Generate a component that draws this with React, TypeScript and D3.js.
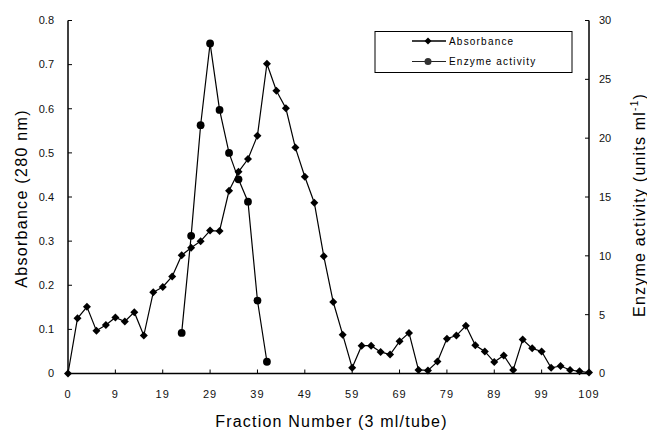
import React from "react";
import * as d3 from "d3";

// Category labels (fraction numbers) of the x axis
const fractions = [
  0, 1, 3, 5, 7, 9, 11, 13, 15, 17, 19, 21, 23, 25, 27, 29, 31, 33, 35, 37,
  39, 41, 43, 45, 47, 49, 51, 53, 55, 57, 59, 61, 63, 65, 67, 69, 71, 73, 75,
  77, 79, 81, 83, 85, 87, 89, 91, 93, 95, 97, 99, 101, 103, 105, 107, 109,
];

// Absorbance (280 nm), one value per fraction
const absorbance = [
  0, 0.125, 0.151, 0.097, 0.11, 0.127, 0.118, 0.139, 0.086, 0.184, 0.196, 0.22,
  0.268, 0.285, 0.3, 0.324, 0.323, 0.414, 0.457, 0.486, 0.539, 0.702, 0.641,
  0.601, 0.512, 0.446, 0.387, 0.266, 0.162, 0.088, 0.013, 0.063, 0.063, 0.049,
  0.043, 0.073, 0.092, 0.008, 0.007, 0.027, 0.079, 0.086, 0.108, 0.064, 0.05,
  0.026, 0.041, 0.008, 0.077, 0.057, 0.05, 0.013, 0.017, 0.008, 0.005, 0.002,
];

// Enzyme activity (units ml-1)
const enzymeFractions = [23, 25, 27, 29, 31, 33, 35, 37, 39, 41];
const enzymeActivity = [3.45, 11.7, 21.1, 28.05, 22.4, 18.75, 16.5, 14.6, 6.2, 1.0];

// Tick labels
const xTickLabels = [0, 9, 19, 29, 39, 49, 59, 69, 79, 89, 99, 109];
const leftTicks = [0, 0.1, 0.2, 0.3, 0.4, 0.5, 0.6, 0.7, 0.8];
const rightTicks = [0, 5, 10, 15, 20, 25, 30];

const W = 647;
const H = 432;
const FONT = "'Liberation Sans', Arial, Helvetica, sans-serif";

export default function App() {
  const x = d3.scaleLinear().domain([0, fractions.length - 1]).range([68, 589]);
  const yL = d3.scaleLinear().domain([0, 0.8]).range([373.5, 20.5]);
  const yR = d3.scaleLinear().domain([0, 30]).range([373.5, 20.5]);
  const idx = (f: number) => fractions.indexOf(f);

  const absPts: [number, number][] = absorbance.map((v, i) => [x(i), yL(v)]);
  const enzPts: [number, number][] = enzymeActivity.map((v, i) => [
    x(idx(enzymeFractions[i])),
    yR(v),
  ]);
  const line = d3.line();
  const diamond = (cx: number, cy: number, s = 4) =>
    `M${cx},${cy - s}L${cx + s},${cy}L${cx},${cy + s}L${cx - s},${cy}Z`;

  const x0 = x.range()[0];
  const x1 = x.range()[1];
  const yb = yL(0);

  return (
    <svg
      width={W}
      height={H}
      style={{ position: "absolute", left: 0, top: 0, background: "#fff" }}
      fontFamily={FONT}
    >
      <rect x={0} y={0} width={W} height={H} fill="#fff" />
      {/* axes */}
      <g stroke="#000" strokeWidth={1.5} fill="none">
        <line x1={x0} y1={yL(0.8)} x2={x0} y2={yb} />
        <line x1={x1} y1={yR(30)} x2={x1} y2={yb} />
        <line x1={x0} y1={yb} x2={x1} y2={yb} />
      </g>
      <g stroke="#000" strokeWidth={1}>
        {leftTicks.map((t) => (
          <line key={"lt" + t} x1={x0} x2={x0 + 4} y1={yL(t)} y2={yL(t)} />
        ))}
        {rightTicks.map((t) => (
          <line key={"rt" + t} x1={x1} x2={x1 - 4} y1={yR(t)} y2={yR(t)} />
        ))}
        {xTickLabels.map((f) => (
          <line key={"xt" + f} x1={x(idx(f))} x2={x(idx(f))} y1={yb} y2={yb - 4} />
        ))}
      </g>
      {/* tick labels */}
      <g fontSize={11} fill="#111">
        {leftTicks.map((t) => (
          <text key={"ll" + t} x={54} y={yL(t)} dy="0.35em" textAnchor="end">
            {t === 0 ? "0" : t.toFixed(1)}
          </text>
        ))}
        {rightTicks.map((t) => (
          <text key={"rl" + t} x={599} y={yR(t)} dy="0.35em" textAnchor="start">
            {t}
          </text>
        ))}
        {xTickLabels.map((f) => (
          <text key={"xl" + f} x={x(idx(f))} y={398} textAnchor="middle" letterSpacing={1}>
            {f}
          </text>
        ))}
      </g>
      {/* axis titles */}
      <g fontSize={16} fill="#000">
        <text
          transform="translate(27,198.5) rotate(-90)"
          textAnchor="middle"
          letterSpacing={1.3}
        >
          Absorbance (280 nm)
        </text>
        <text
          transform="translate(645,205) rotate(-90)"
          textAnchor="middle"
          letterSpacing={1.2}
        >
          Enzyme activity (units ml
          <tspan fontSize={10} dy={-7}>-1</tspan>
          <tspan dy={7}>)</tspan>
        </text>
        <text x={331.5} y={427} textAnchor="middle" letterSpacing={1.2}>
          Fraction Number (3 ml/tube)
        </text>
      </g>
      {/* series */}
      <path d={line(absPts) || ""} fill="none" stroke="#000" strokeWidth={1.2} />
      {absPts.map(([px, py], i) => (
        <path key={"d" + i} d={diamond(px, py)} fill="#000" />
      ))}
      <path d={line(enzPts) || ""} fill="none" stroke="#000" strokeWidth={1.2} />
      {enzPts.map(([px, py], i) => (
        <circle key={"c" + i} cx={px} cy={py} r={3.9} fill="#000" />
      ))}
      {/* legend */}
      <rect x={375} y={31.5} width={197} height={41} fill="#fff" stroke="#000" strokeWidth={1} />
      <line x1={412} x2={446} y1={41} y2={41} stroke="#000" strokeWidth={1.5} />
      <path d={diamond(428, 41, 3.5)} fill="#000" />
      <text x={449} y={44.5} fontSize={10} letterSpacing={1.2} fill="#000">
        Absorbance
      </text>
      <line x1={412} x2={446} y1={61.5} y2={61.5} stroke="#222" strokeWidth={1.2} />
      <circle cx={428} cy={61.5} r={3.5} fill="#333" />
      <text x={449} y={65} fontSize={10} letterSpacing={1.2} fill="#000">
        Enzyme activity
      </text>
    </svg>
  );
}
